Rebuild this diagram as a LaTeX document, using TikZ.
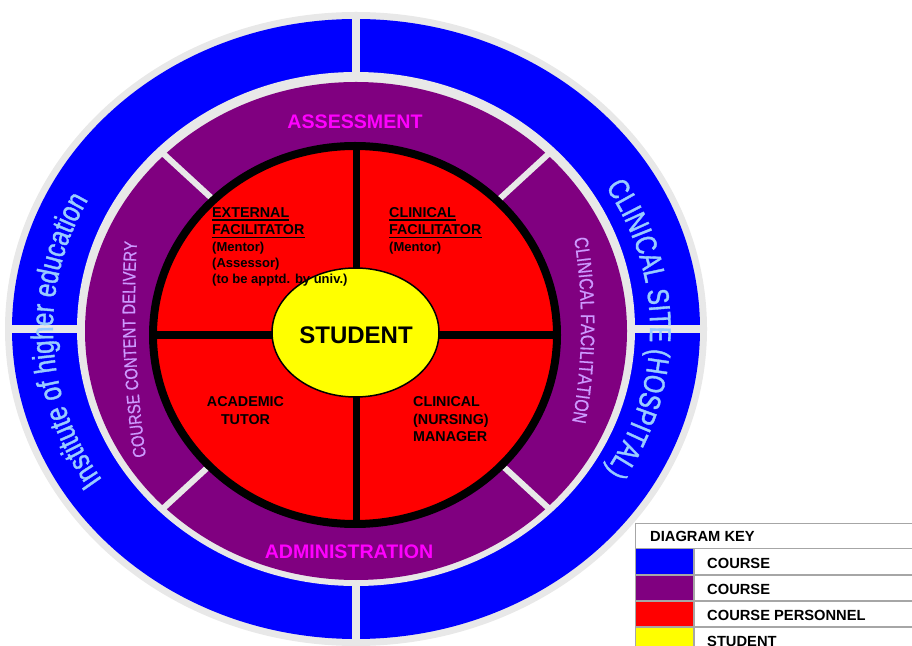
\documentclass[tikz,border=0pt]{standalone}
\usepackage{fontspec}
\setmainfont{Liberation Sans}
\newfontfamily\narrowA[FakeStretch=0.78,FakeBold=1.2]{Liberation Sans}
\newfontfamily\narrowB[FakeStretch=0.82,FakeBold=0.6]{Liberation Sans}
\usetikzlibrary{decorations.text}
\definecolor{ringgrey}{HTML}{E8E8E8}
\definecolor{rblue}{HTML}{0000FF}
\definecolor{rpurple}{HTML}{800080}
\definecolor{rred}{HTML}{FF0000}
\definecolor{ryellow}{HTML}{FFFF00}
\definecolor{rmagenta}{HTML}{FF00FF}
\definecolor{ltblue}{HTML}{99CCFF}
\definecolor{lavender}{HTML}{CC99FF}
\definecolor{keygrey}{HTML}{A6A6A6}
\begin{document}
\begin{tikzpicture}[x=1pt,y=1pt,
  lbl/.style={inner sep=0pt, anchor=base west, font=\bfseries\fontsize{14.3}{14.3}\selectfont},
  sublbl/.style={lbl, font=\bfseries\fontsize{13}{13}\selectfont},
  ringlbl/.style={inner sep=0pt, anchor=base, text=rmagenta, font=\bfseries\fontsize{19.6}{19.6}\selectfont},
  keylbl/.style={inner sep=0pt, anchor=base west, font=\bfseries\fontsize{14.7}{14.7}\selectfont},
  keyline/.style={draw=keygrey, line width=1.5pt},
  uline/.style={line width=1.3pt},
  divider/.style={ringgrey, line width=6pt},
]
\useasboundingbox (0,0) rectangle (912,645);

% outer blue ring
\fill[ringgrey] (356,316) ellipse[x radius=351pt, y radius=317pt];
\fill[rblue] (356,316) ellipse[x radius=344pt, y radius=310pt];
\begin{scope}
  \clip (356,316) ellipse[x radius=351pt, y radius=317pt];
  \draw[ringgrey, line width=8pt] (356,650) -- (356,-10);
  \draw[ringgrey, line width=8pt] (0,316) -- (720,316);
\end{scope}
\fill[ringgrey] (356,316) ellipse[x radius=279pt, y radius=257pt];

% purple ring
\begin{scope}[shift={(356,314)}]
  \fill[rpurple] (0,0) ellipse[x radius=271pt, y radius=249pt];
  \foreach \a in {45,135,225,315} \draw[divider] (0,0) -- (\a:275pt and 253pt);
\end{scope}

% red circle
\filldraw[fill=rred, draw=black, line width=8pt] (355,310) ellipse[x radius=202pt, y radius=189pt];
\draw[black, line width=7pt] (356,499) -- (356,121);
\draw[black, line width=8pt] (153,310) -- (557,310);

% student
\filldraw[fill=ryellow, draw=black, line width=1.5pt] (355.5,312.5) ellipse[x radius=83.5pt, y radius=64.5pt];
\node[inner sep=0pt, anchor=base, font=\bfseries\fontsize{24}{24}\selectfont] (student) at (356,301) {STUDENT};

% ring labels
\node[ringlbl] (assess) at (355,516) {ASSESSMENT};
\node[ringlbl] (admin) at (349,87) {ADMINISTRATION};

% personnel labels
\node[lbl] (ext1) at (212,427) {EXTERNAL};
\node[lbl] (ext2) at (212,410) {FACILITATOR};
\node[sublbl] (ext3) at (212,393) {(Mentor)};
\node[sublbl] (ext4) at (212,377) {(Assessor)};
\node[sublbl] (ext5) at (212,361) {(to be apptd. by univ.)};
\draw[uline] ([yshift=-2pt]ext1.base west) -- ([yshift=-2pt]ext1.base east);
\draw[uline] ([yshift=-2.5pt]ext2.base west) -- ([yshift=-2.5pt]ext2.base east);

\node[lbl] (cf1) at (389,427) {CLINICAL};
\node[lbl] (cf2) at (389,410) {FACILITATOR};
\node[sublbl] (cf3) at (389,393) {(Mentor)};
\draw[uline] ([yshift=-2pt]cf1.base west) -- ([yshift=-2pt]cf1.base east);
\draw[uline] ([yshift=-2.5pt]cf2.base west) -- ([yshift=-2.5pt]cf2.base east);

\node[lbl, anchor=base] (ac1) at (245.5,238) {ACADEMIC};
\node[lbl, anchor=base] (ac2) at (245.5,220) {TUTOR};

\node[lbl] (mg1) at (413,238) {CLINICAL};
\node[lbl] (mg2) at (413,220.5) {(NURSING)};
\node[lbl] (mg3) at (413,203) {MANAGER};

% curved texts
\begin{scope}[shift={(356,316)}]
  \path[decorate, decoration={text along path, text align=center,
    text={|\narrowA\fontsize{31}{31}\selectfont\color{ltblue}|Institute of higher education}}]
    (240:303pt and 276pt) arc[start angle=240, end angle=125, x radius=303pt, y radius=276pt];
  \path[decorate, decoration={text along path, text align=center,
    text={|\narrowA\fontsize{30}{30}\selectfont\color{ltblue}|CLINICAL SITE (HOSPITAL)}}]
    (55:294pt and 268pt) arc[start angle=55, end angle=-55, x radius=294pt, y radius=268pt];
\end{scope}
\path[decorate, decoration={text along path, text align=center,
    text={|\narrowB\fontsize{18}{18}\selectfont\color{lavender}|COURSE CONTENT DELIVERY}}]
  (149.1,167.6) -- (146,189) .. controls (135.7,260.3) and (132.7,331.7) .. (137,403) -- (138.3,424.4);
\path[decorate, decoration={text along path, text align=center,
    text={|\narrowB\fontsize{19.5}{19.5}\selectfont\color{lavender}|CLINICAL FACILITATION}}]
  (569.6,432.6) -- (573,413) .. controls (584.3,347.7) and (583.7,282.3) .. (571,217) -- (567.2,197.4);

% diagram key
\fill[white] (635.5,121.5) rectangle (915,-5);
\fill[rblue] (636,96) rectangle (694,70);
\fill[rpurple] (636,70) rectangle (694,44);
\fill[rred] (636,44) rectangle (694,18);
\fill[ryellow] (636,18) rectangle (694,-5);
\foreach \yy in {121.5,96.5,70,44,18} \draw[keyline] (635.5,\yy) -- (915,\yy);
\draw[keyline] (635.5,122.25) -- (635.5,-5);
\draw[keyline] (694,96.5) -- (694,-5);
\node[keylbl] (keyh) at (650,103) {DIAGRAM KEY};
\node[keylbl] (key1) at (707,77) {COURSE};
\node[keylbl] (key2) at (707,51) {COURSE};
\node[keylbl] (key3) at (707,25) {COURSE PERSONNEL};
\node[keylbl] (key4) at (707,-1) {STUDENT};
\end{tikzpicture}
\end{document}
